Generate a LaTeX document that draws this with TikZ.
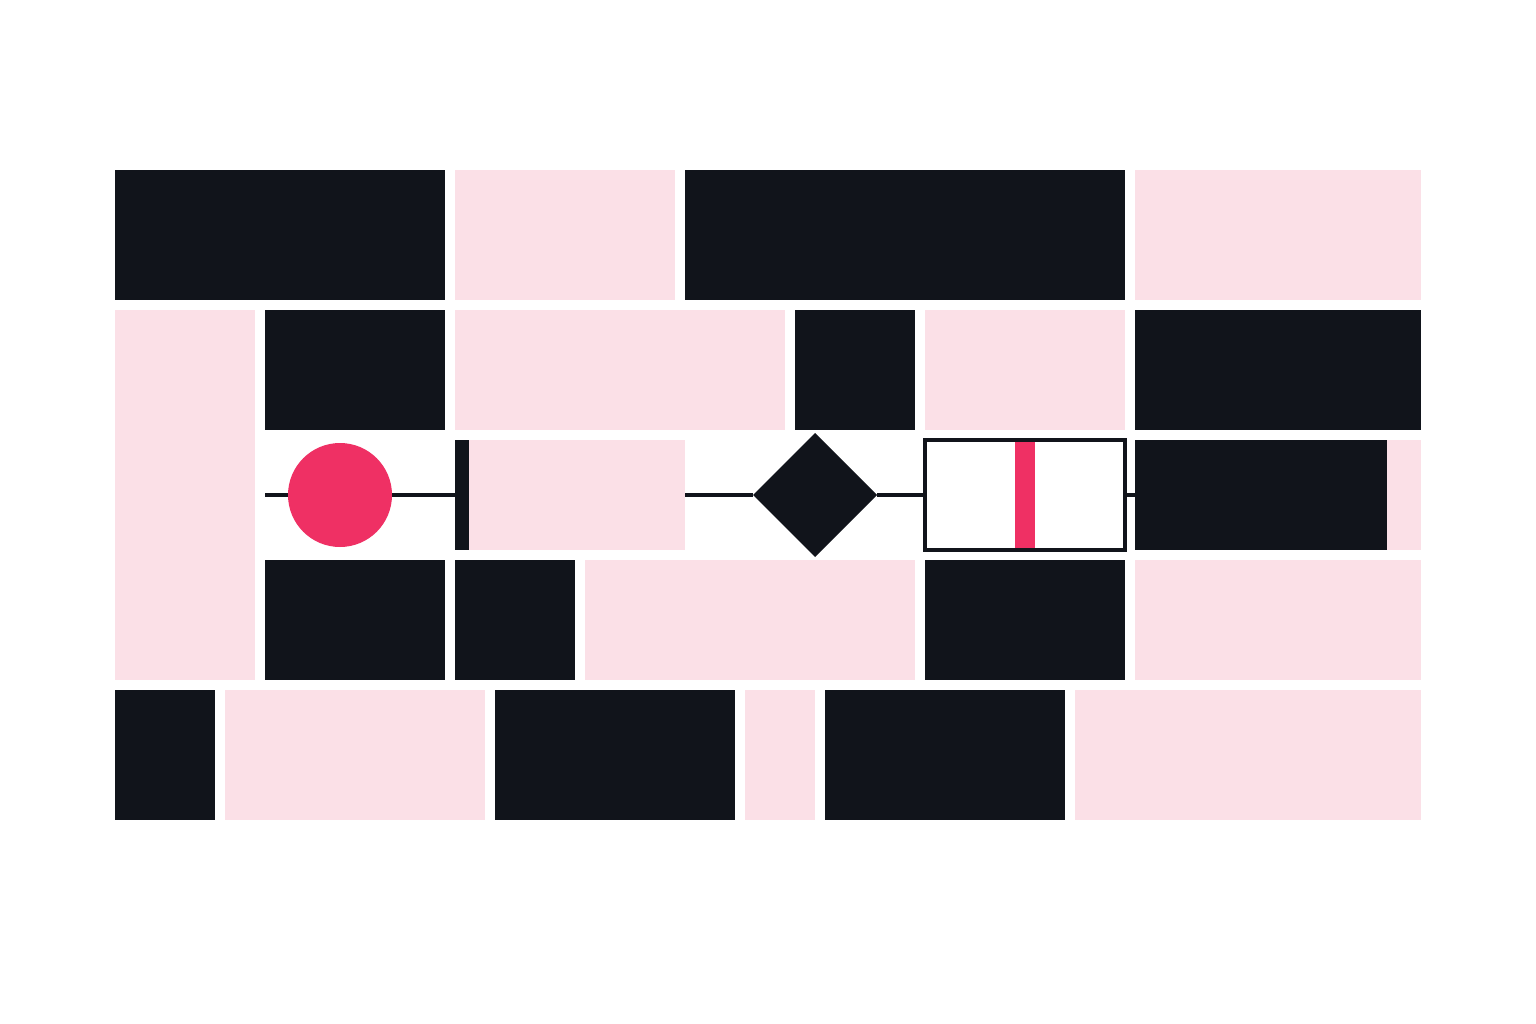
\documentclass[tikz,border=0pt]{standalone}
\usetikzlibrary{shapes.geometric}

\definecolor{ink}{HTML}{11141B}
\definecolor{blush}{HTML}{FBE0E7}
\definecolor{rosered}{HTML}{EF3064}

\begin{document}
\begin{tikzpicture}[x=1pt, y=-1pt, line width=3.5pt,
    every node/.style={inner sep=0pt, outer sep=0pt},
    block/.style={rectangle, minimum height=110pt}]
\useasboundingbox[fill=white] (0,0) rectangle (1536,1024);

% Blocks (x1/y1/x2/y2)
\foreach \xa/\ya/\xb/\yb in {115/170/445/300, 685/170/1125/300,
    265/310/445/430, 795/310/915/430, 1135/310/1421/430,
    265/560/445/680, 455/560/575/680, 925/560/1125/680,
    115/690/215/820, 495/690/735/820, 825/690/1065/820}
  \fill[ink] (\xa,\ya) rectangle (\xb,\yb);
\foreach \xa/\ya/\xb/\yb in {455/170/675/300, 1135/170/1421/300,
    115/310/255/680, 455/310/785/430, 925/310/1125/430,
    585/560/915/680, 1135/560/1421/680, 1387/440/1421/550,
    225/690/485/820, 745/690/815/820, 1075/690/1421/820}
  \fill[blush] (\xa,\ya) rectangle (\xb,\yb);

% Nodes
\coordinate (in) at (265,495);
\node (start) [circle, fill=rosered, minimum size=104pt] at (340,495) {};
\node (bar) [block, fill=ink, minimum width=14pt] at (462,495) {};
\node (task) [block, fill=blush, minimum width=216pt] at (577,495) {};
\node (gate) [diamond, fill=ink, minimum width=124pt, minimum height=124pt] at (815,495) {};
\node (box) [block, draw=ink, fill=white, minimum width=200pt] at (1025,495) {};
\fill[rosered] (1015,442) rectangle (1035,548);
\node (done) [block, fill=ink, minimum width=252pt] at (1261,495) {};

% Edges
\draw[ink] (in) -- (start);
\draw[ink] (start) -- (bar);
\draw[ink] (task) -- (gate);
\draw[ink] (gate) -- (box);
\draw[ink] (box) -- (done);
\end{tikzpicture}
\end{document}
